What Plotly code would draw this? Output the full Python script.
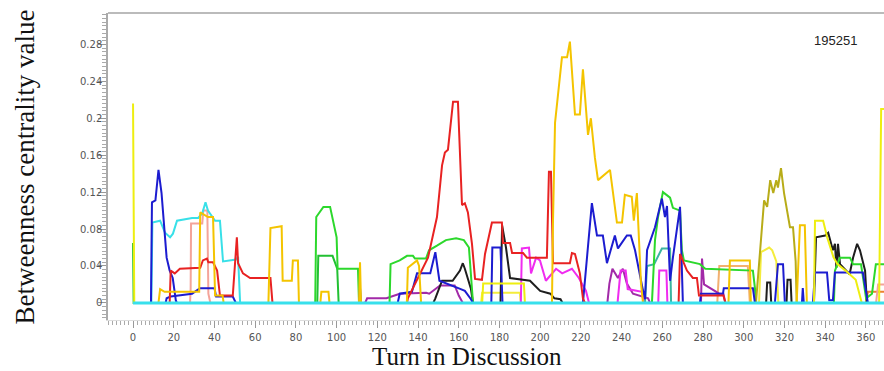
import plotly.graph_objects as go

# ---------------- data (turn, betweenness) ----------------
yellow_turn = [0, 0.6, 171.5, 172, 192, 192.5, 334.5, 335, 339, 341, 344, 346, 350, 355, 358, 366.5, 367.5, 369]
yellow_val = [0.216, 0, 0, 0.021, 0.021, 0, 0, 0.089, 0.089, 0.071, 0.05, 0.042, 0.035, 0.025, 0, 0, 0.21, 0.21]

lightyellow_turn = [171, 171.5, 190, 190.5, 307.5, 308.5, 312.5, 314, 316, 317]
lightyellow_val = [0, 0.011, 0.011, 0, 0, 0.055, 0.06, 0.057, 0.045, 0]

gold_turn = [12.5, 13.3, 15.5, 32.5, 33, 36.8, 39.3, 40.3, 44, 44.5,
             66.5, 67.5, 73, 73.5, 78, 78.5, 81, 81.5,
             92, 92.5, 96, 96.5, 111, 111.5, 112,
             134.5, 135, 137, 139.5, 140.5, 141.5,
             205.8, 206.3, 207.3, 210.7, 213.2, 214.6, 217.1, 219.5, 221, 223.5, 224.9, 226.9,
             228.4, 234.3, 237.7, 240.2, 241.6, 245, 246, 247.5, 249.5, 250.5,
             292.5, 293.2, 303, 303.5, 326, 327, 327.6, 330, 330.5, 331]
gold_val = [0, 0.015, 0.012, 0.012, 0.098, 0.093, 0.093, 0.008, 0.008, 0,
            0, 0.081, 0.083, 0.024, 0.024, 0.046, 0.046, 0,
            0, 0.012, 0.012, 0, 0, 0.044, 0,
            0, 0.038, 0.042, 0.046, 0.04, 0,
            0, 0.089, 0.195, 0.266, 0.266, 0.283, 0.204, 0.204, 0.253, 0.182, 0.2, 0.157,
            0.133, 0.144, 0.087, 0.087, 0.117, 0.115, 0.089, 0.119, 0.022, 0,
            0, 0.046, 0.046, 0, 0, 0.057, 0.084, 0.084, 0.045, 0]

red_turn = [18, 18.5, 20.5, 23, 33, 34.3, 36.3, 37, 39.3, 41.3, 42.7, 49, 51, 51.6, 54, 57.5, 67.5, 68.5,
            134.6, 135, 144.9, 149.3, 151.8, 153.2, 154.7, 157.2, 159.6, 161.6, 163, 164.5, 166.5, 168,
            171.4, 172.9, 176.3, 181.2, 181.7, 185.2, 186.2, 191.6, 193.5, 203.3, 204.3, 205.3, 206.3,
            214.6, 215.6, 217.1, 219.5, 221, 222,
            268, 268.7, 272.1, 275, 277, 278, 290, 291]
red_val = [0, 0.035, 0.032, 0.037, 0.038, 0.046, 0.048, 0.044, 0.044, 0.035, 0.008, 0.008, 0.071, 0.043, 0.032, 0.027, 0.027, 0,
           0, 0.005, 0.049, 0.093, 0.149, 0.163, 0.166, 0.218, 0.218, 0.106, 0.108, 0.098, 0.064, 0.026,
           0.025, 0.053, 0.087, 0.087, 0.065, 0.065, 0.054, 0.054, 0.049, 0.049, 0.142, 0.142, 0.043,
           0.043, 0.054, 0.053, 0.032, 0.005, 0,
           0, 0.053, 0.035, 0.027, 0.027, 0.008, 0.008, 0]

blue_turn = [8.8, 9.3, 11, 12.5, 14, 16.5, 18, 19.5, 21, 21.5,
             111, 111.5, 112,
             130, 131, 137, 139.5, 146, 148.5, 150.5, 161, 163, 166, 167,
             176, 176.5, 180.5, 181.5,
             221, 225.4, 227.9, 230.8, 232.8, 236.7, 238.2, 242.6, 244.5, 246.6, 250, 251.5, 252.5,
             256.4, 259.8, 261.3, 262.3, 263.8, 265.2, 268.7, 270.1,
             278.5, 279, 289.8, 290.2, 304.5, 305.5,
             315.3, 316.8, 319.3, 320.2, 328.6, 329, 329.5,
             334, 335, 340.9, 342, 343.8, 344.8, 358.5, 360.5, 361]
blue_val = [0, 0.109, 0.111, 0.144, 0.119, 0.049, 0.035, 0.027, 0.003, 0,
            0, 0.016, 0,
            0, 0.01, 0.012, 0.032, 0.032, 0.055, 0.024, 0.015, 0.013, 0.004, 0,
            0, 0.06, 0.06, 0,
            0, 0.108, 0.073, 0.073, 0.043, 0.073, 0.059, 0.073, 0.073, 0.057, 0.019, 0.004, 0.057,
            0.082, 0.113, 0.093, 0.105, 0.024, 0.049, 0.104, 0,
            0, 0.01, 0.01, 0.016, 0.016, 0,
            0, 0.042, 0.042, 0, 0, 0.016, 0,
            0, 0.033, 0.033, 0.003, 0.003, 0.033, 0.033, 0.004, 0]

bluelow_turn = [16, 16.5, 18.5, 29, 32.9, 40, 40.8, 49, 50.5]
bluelow_val = [0, 0.005, 0.007, 0.01, 0.016, 0.016, 0.007, 0.007, 0]

cyan_turn = [9, 9.5, 13.3, 15.7, 18.2, 19.6, 21.6, 29, 32, 34, 35.6, 36.8, 40.3, 42.7, 44.2, 50.6, 51.6, 52.6]
cyan_val = [0, 0.087, 0.089, 0.076, 0.071, 0.075, 0.089, 0.092, 0.092, 0.097, 0.109, 0.1, 0.089, 0.089, 0.045, 0.047, 0.05, 0]

teal_turn = [251.5, 252.5, 256, 259.8, 263.8, 264.3]
teal_val = [0, 0.04, 0.042, 0.059, 0.059, 0]

salmon_turn = [28, 28.3, 28.5, 34, 34.5, 36.5, 37, 38, 365, 366, 369]
salmon_val = [0, 0.015, 0.086, 0.086, 0.1, 0.1, 0.01, 0, 0, 0.02, 0.02]

lime_turn = [89.5, 90, 93.5, 96.8, 100, 100.5, 110.5, 111,
             126, 126.5, 131, 134.6, 137.5, 138.5, 143.9, 145.4, 149.3, 153.7, 158.7, 162.5, 165, 166.5, 167,
             254.9, 256.4, 257.9, 260.3, 263.8, 265.2, 268.7, 269.6, 270.6, 278.5, 281.1, 304.5, 305.5, 306,
             344.3, 344.8, 347.3, 352.2, 353.7, 357.6, 360.1, 363, 364.9, 369]
lime_val = [0, 0.093, 0.104, 0.104, 0.071, 0.037, 0.037, 0,
            0, 0.042, 0.046, 0.051, 0.051, 0.048, 0.048, 0.057, 0.062, 0.068, 0.07, 0.068, 0.06, 0.013, 0,
            0, 0.068, 0.093, 0.12, 0.114, 0.103, 0.1, 0.057, 0.046, 0.042, 0.037, 0.035, 0.016, 0,
            0, 0.035, 0.049, 0.049, 0.042, 0.042, 0.005, 0.01, 0.042, 0.042]

green_turn = [0, 0.3, 90.5, 91, 98, 100.3, 101]
green_val = [0.065, 0, 0, 0.051, 0.051, 0.037, 0]

olive_turn = [306, 307, 308.5, 310, 311.5, 313, 314.5, 316, 316.8, 318.3, 319.8, 322.7, 324.2, 325.5, 326]
olive_val = [0, 0.027, 0.068, 0.111, 0.104, 0.133, 0.119, 0.133, 0.125, 0.146, 0.119, 0.082, 0.082, 0.045, 0]

black_turn = [147.5, 148.5, 151.8, 157, 160.6, 162, 163, 164.5, 166, 167,
              180.5, 181.3, 183.2, 185.2, 195, 200, 205, 207, 210, 211,
              311, 311.5, 313, 313.5, 321, 321.5, 323, 323.5,
              334.5, 335.5, 340, 341.5, 343.8, 344.8, 345.5, 346.3, 347.3, 352, 353.7, 355.7, 357.1, 359.6, 360.5]
black_val = [0, 0.005, 0.024, 0.024, 0.035, 0.043, 0.037, 0.027, 0.015, 0,
             0, 0.084, 0.06, 0.027, 0.024, 0.013, 0.01, 0.005, 0.004, 0,
             0, 0.022, 0.022, 0, 0, 0.025, 0.025, 0,
             0, 0.071, 0.073, 0.076, 0.057, 0.064, 0.038, 0.064, 0.042, 0.031, 0.049, 0.064, 0.057, 0.035, 0]

magenta_turn = [190.5, 191, 194.5, 195.5, 198, 199.9, 202.8, 207.8, 210.8, 215.6, 219, 222.5, 224,
                238, 239.5, 242, 243, 250, 251, 258, 258.5, 262, 262.5]
magenta_val = [0, 0.059, 0.06, 0.032, 0.049, 0.046, 0.024, 0.037, 0.032, 0.037, 0.027, 0.013, 0,
               0, 0.035, 0.035, 0.015, 0.012, 0, 0, 0.035, 0.035, 0]

purple_turn = [114, 115, 124.5, 131, 144, 145.5, 150.8, 158, 160, 162,
               233, 234, 235.5, 238.2, 240.6, 242.6, 245.6, 253, 254,
               279, 279.5, 280.5, 288, 290, 291]
purple_val = [0, 0.005, 0.005, 0.01, 0.011, 0.01, 0.019, 0.019, 0.008, 0,
              0, 0.021, 0.037, 0.027, 0.037, 0.021, 0.01, 0.005, 0,
              0, 0.048, 0.02, 0.01, 0.01, 0]

peach_turn = [287, 288, 302, 303]
peach_val = [0, 0.04, 0.04, 0]

orange_turn = [360, 361, 369]
orange_val = [0, 0.012, 0.012]

base_turn = [0, 369]
base_val = [0, 0]

x_ticks = list(range(0, 361, 20))
y_ticks = [0, 0.04, 0.08, 0.12, 0.16, 0.2, 0.24, 0.28]

series = [
    (lightyellow_turn, lightyellow_val, "#f4ec3c"),
    (peach_turn, peach_val, "#f2b070"),
    (orange_turn, orange_val, "#ec8030"),
    (purple_turn, purple_val, "#a22aa8"),
    (magenta_turn, magenta_val, "#f02cf0"),
    (black_turn, black_val, "#1e1e1e"),
    (teal_turn, teal_val, "#3cb4a0"),
    (green_turn, green_val, "#22c032"),
    (lime_turn, lime_val, "#2cd82c"),
    (olive_turn, olive_val, "#b8ac18"),
    (salmon_turn, salmon_val, "#f4a49a"),
    (cyan_turn, cyan_val, "#38e0e8"),
    (bluelow_turn, bluelow_val, "#1c1cd0"),
    (blue_turn, blue_val, "#1c1cd0"),
    (red_turn, red_val, "#e82222"),
    (gold_turn, gold_val, "#f4c400"),
    (yellow_turn, yellow_val, "#eeee10"),
    (base_turn, base_val, "#38e0ec"),
]

fig = go.Figure()
for xs, ys, col in series:
    w = 3 if xs is base_turn else 2
    fig.add_trace(go.Scatter(x=xs, y=ys, mode="lines", line=dict(color=col, width=w),
                             showlegend=False, hoverinfo="skip"))

tick_font = dict(family="DejaVu Sans", size=10, color="#555555")
fig.update_layout(
    width=884, height=371,
    margin=dict(l=108, r=0, t=13, b=51),
    paper_bgcolor="white", plot_bgcolor="white",
    xaxis=dict(range=[-12.3, 368.9], tickvals=x_ticks, showgrid=False, zeroline=False, automargin=False,
               ticks="outside", ticklen=7, tickcolor="#999999", tickfont=tick_font,
               showline=True, linecolor="#dddddd", linewidth=1, ticklabelstandoff=1,
               minor=dict(dtick=2, ticks="outside", ticklen=4, tickcolor="#aaaaaa")),
    yaxis=dict(range=[-0.0185, 0.314], tickvals=y_ticks, showgrid=False, zeroline=False, automargin=False,
               ticks="outside", ticklen=8, tickcolor="#999999", tickfont=tick_font,
               showline=True, linecolor="#aaaaaa", linewidth=1.5, ticklabelstandoff=-6,
               minor=dict(dtick=0.004, ticks="outside", ticklen=4, tickcolor="#aaaaaa")),
)
fig.add_shape(type="line", xref="paper", yref="paper", x0=0, x1=1, y0=1, y1=1,
              line=dict(color="#bbbbbb", width=2))
fig.add_annotation(text="195251", xref="paper", yref="paper", x=0.938, y=0.911,
                   xanchor="center", yanchor="middle", showarrow=False,
                   font=dict(family="Liberation Sans", size=13, color="#222222"))
fig.add_annotation(text="Turn in Discussion", xref="paper", yref="paper", x=0.463, y=-0.118,
                   xanchor="center", yanchor="middle", showarrow=False, borderpad=0,
                   font=dict(family="Liberation Serif", size=25, color="#111111"))
fig.add_annotation(text="Betweenness centrality value", xref="paper", yref="paper", x=-0.107, y=0.5,
                   xanchor="center", yanchor="middle", textangle=-90, showarrow=False, borderpad=0,
                   font=dict(family="Liberation Serif", size=27, color="#111111"))

fig.write_html("out.html", config={"displayModeBar": False},
               post_script="document.body.style.margin='0';document.body.style.overflow='hidden';")
